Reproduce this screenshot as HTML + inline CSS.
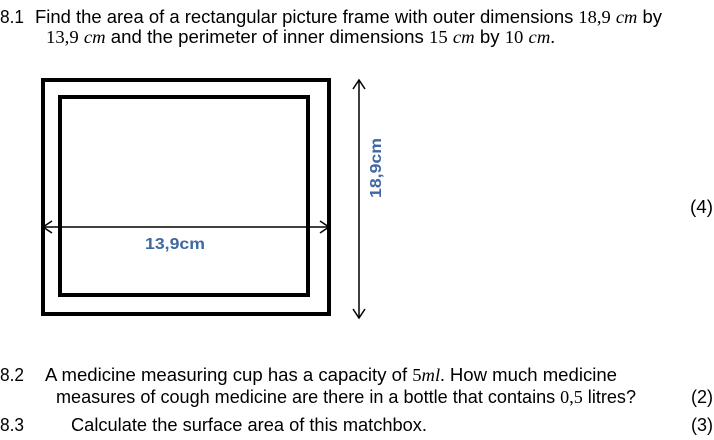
<!DOCTYPE html>
<html><head><meta charset="utf-8"><style>
html,body{margin:0;padding:0;background:#fff;}
svg{display:block;}
text{font-family:"Liberation Sans",Arial,sans-serif;font-size:18px;fill:#000;}
.m{font-family:"Liberation Serif",serif;}
.i{font-family:"Liberation Serif",serif;font-style:italic;}
.b{fill:#3f67a3;font-weight:bold;font-size:16px;}
</style></head><body>
<svg width="714" height="440" viewBox="0 0 714 440" xmlns="http://www.w3.org/2000/svg">
<text x="0" y="23" textLength="24" lengthAdjust="spacingAndGlyphs">8.1</text>
<text x="35" y="23" textLength="627" lengthAdjust="spacingAndGlyphs">Find the area of a rectangular picture frame with outer dimensions <tspan class="m">18,9</tspan> <tspan class="i">cm</tspan> by</text>
<text x="46" y="43" textLength="509" lengthAdjust="spacingAndGlyphs"><tspan class="m">13,9</tspan> <tspan class="i">cm</tspan> and the perimeter of inner dimensions <tspan class="m">15</tspan> <tspan class="i">cm</tspan> by <tspan class="m">10</tspan> <tspan class="i">cm</tspan><tspan class="m">.</tspan></text>

<rect x="43" y="80" width="286" height="234" fill="none" stroke="#000" stroke-width="4"/>
<rect x="60" y="97" width="248" height="198" fill="none" stroke="#000" stroke-width="4"/>
<line x1="43" y1="227" x2="329" y2="227" stroke="#000" stroke-width="1.5"/>
<polyline points="52,221 43,227 52,233" fill="none" stroke="#000" stroke-width="1.5"/>
<polyline points="320,221 329,227 320,233" fill="none" stroke="#000" stroke-width="1.5"/>
<line x1="359" y1="80" x2="359" y2="318" stroke="#000" stroke-width="1.5"/>
<polyline points="353,89 359,80 365,89" fill="none" stroke="#000" stroke-width="1.5"/>
<polyline points="353,309 359,318 365,309" fill="none" stroke="#000" stroke-width="1.5"/>
<text class="b" x="145" y="249" textLength="60" lengthAdjust="spacingAndGlyphs">13,9cm</text>
<text class="b" transform="translate(381,198) rotate(-90)" textLength="60" lengthAdjust="spacingAndGlyphs">18,9cm</text>
<text x="690" y="213" textLength="23" lengthAdjust="spacingAndGlyphs">(4)</text>

<text x="0" y="381" textLength="24" lengthAdjust="spacingAndGlyphs">8.2</text>
<text x="45" y="381" textLength="572" lengthAdjust="spacingAndGlyphs">A medicine measuring cup has a capacity of <tspan class="m">5</tspan><tspan class="i">ml</tspan><tspan class="m">.</tspan> How much medicine</text>
<text x="56" y="403" textLength="580" lengthAdjust="spacingAndGlyphs">measures of cough medicine are there in a bottle that contains <tspan class="m">0,5</tspan> litres?</text>
<text x="691" y="403" textLength="22" lengthAdjust="spacingAndGlyphs">(2)</text>
<text x="0" y="431" textLength="24" lengthAdjust="spacingAndGlyphs">8.3</text>
<text x="71" y="431" textLength="356" lengthAdjust="spacingAndGlyphs">Calculate the surface area of this matchbox.</text>
<text x="691" y="431" textLength="22" lengthAdjust="spacingAndGlyphs">(3)</text>
</svg>
</body></html>
